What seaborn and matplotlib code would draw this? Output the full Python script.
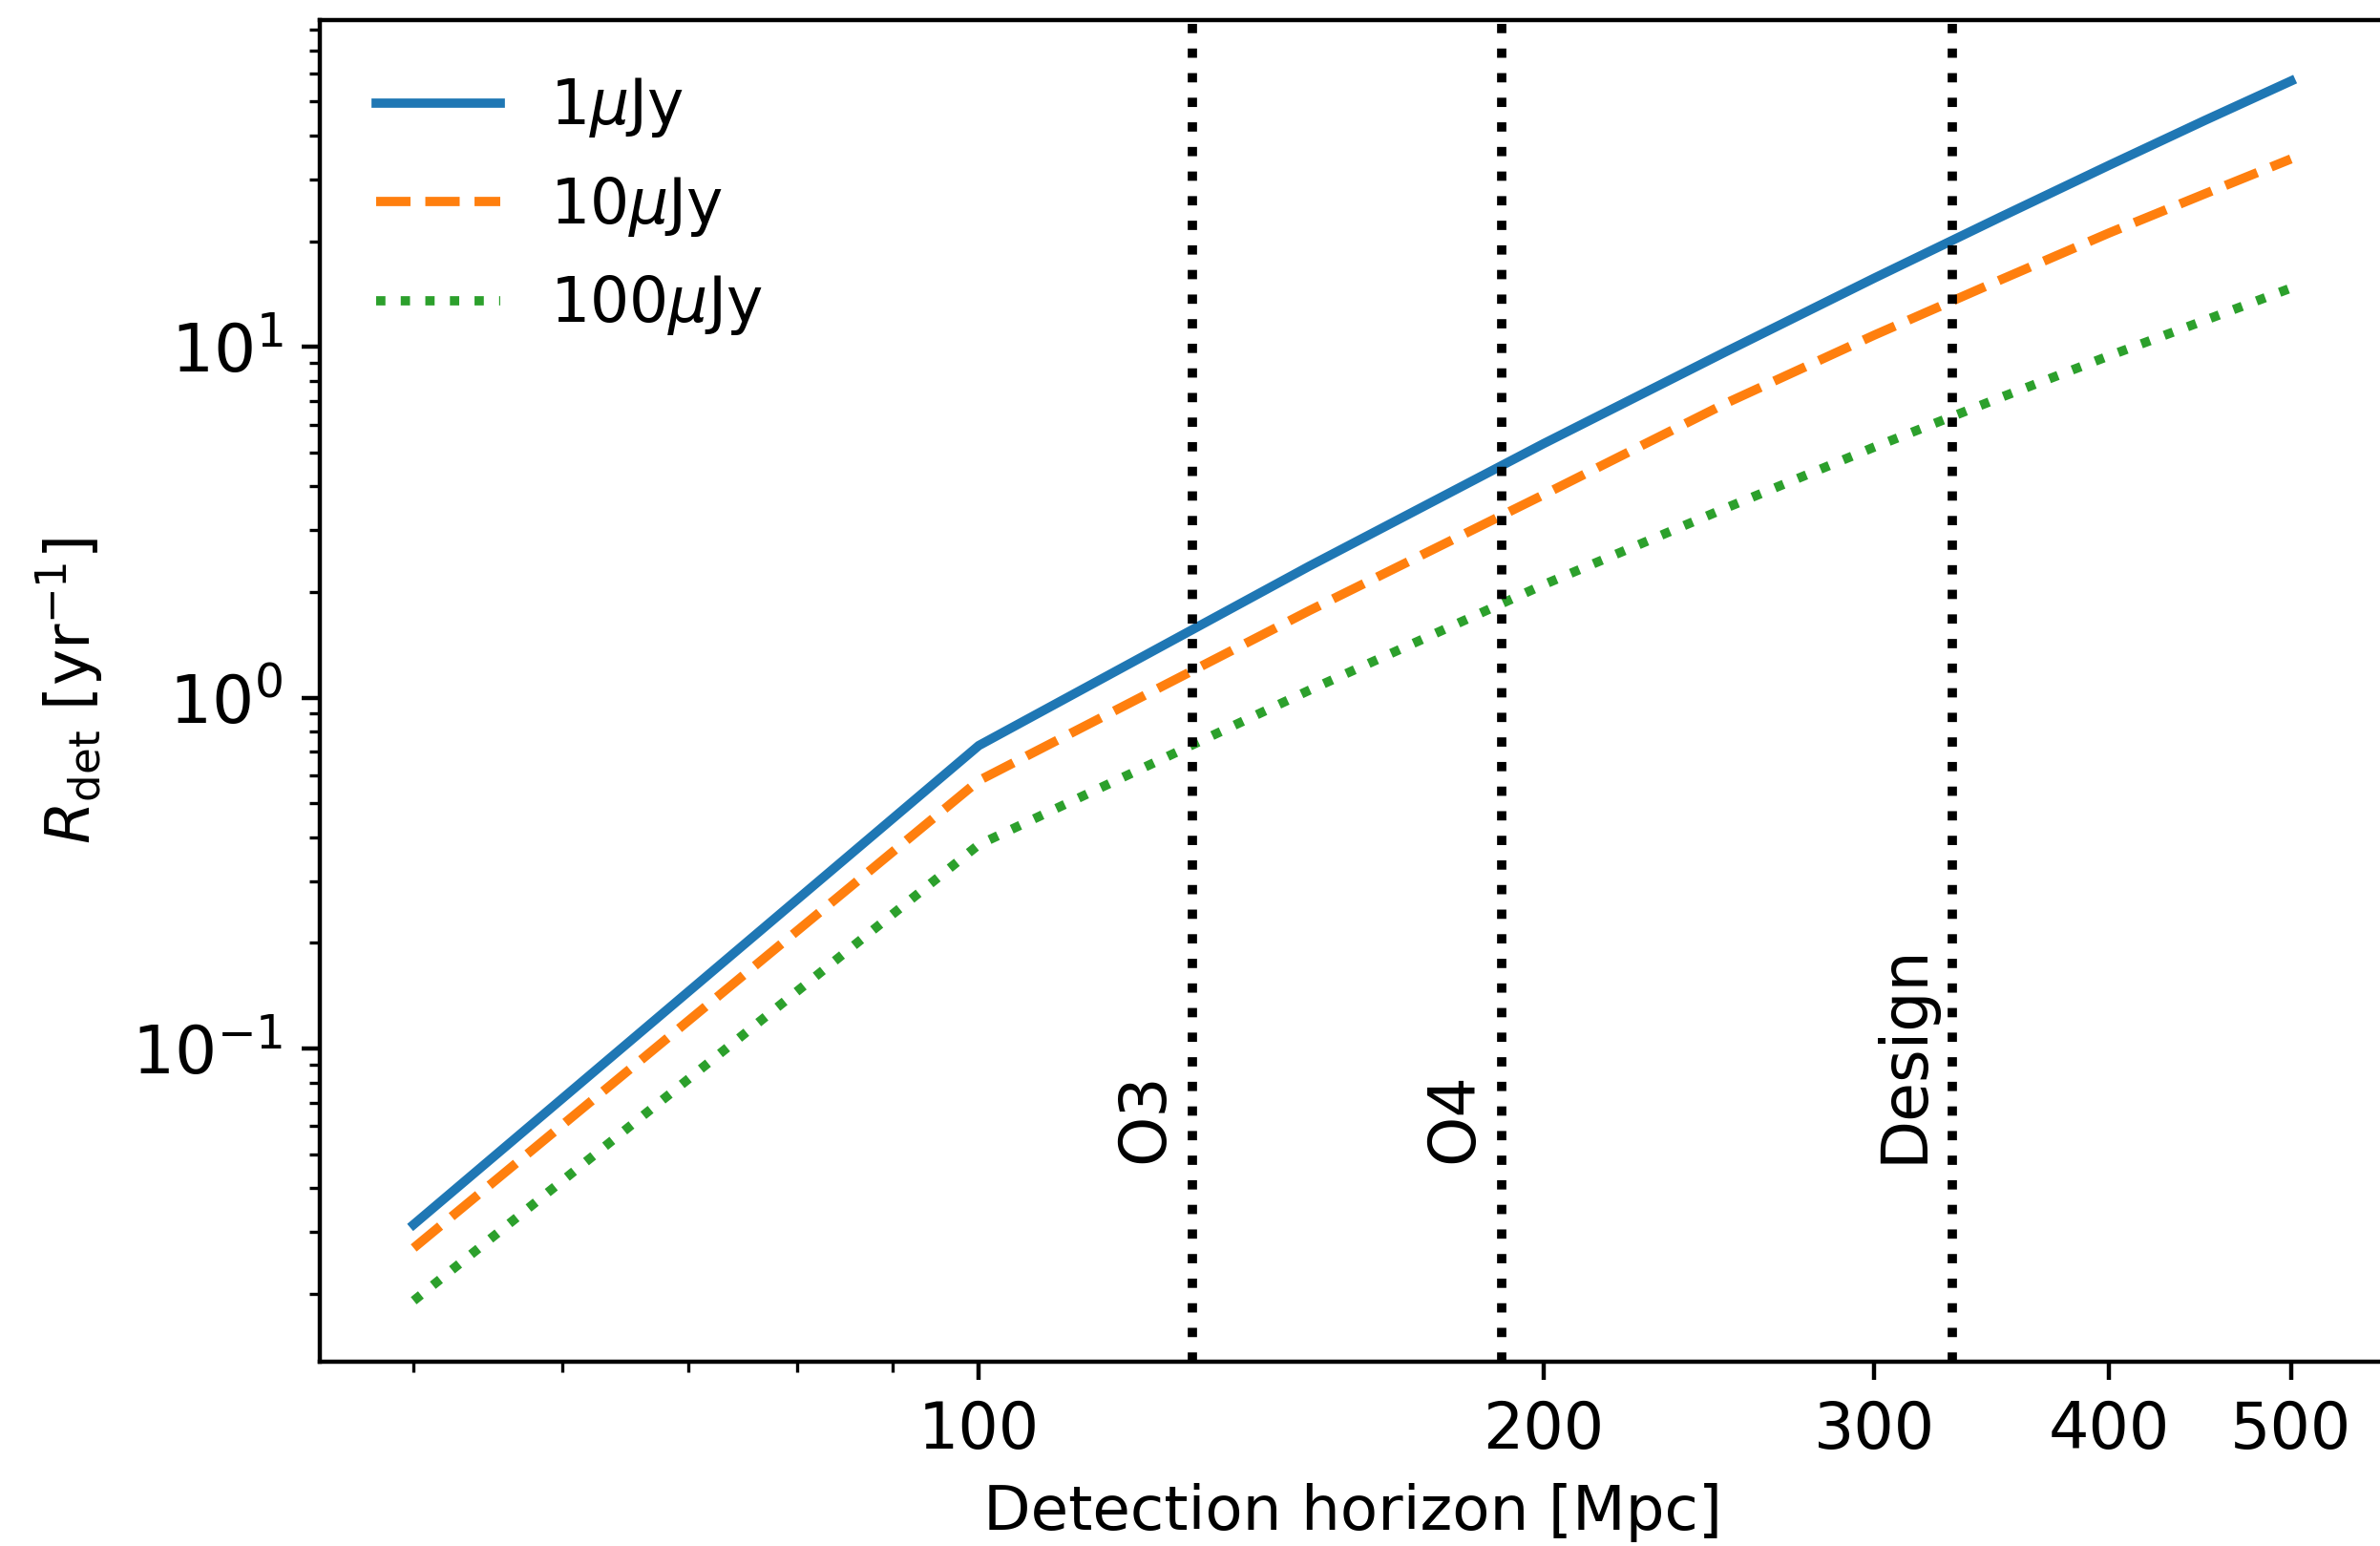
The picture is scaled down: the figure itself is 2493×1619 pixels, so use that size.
import numpy as np
import pandas as pd
import matplotlib
matplotlib.use("Agg")
import matplotlib.pyplot as plt
import seaborn as sns
from matplotlib.ticker import NullFormatter

# ---- data ----
horizon = [50, 100, 150, 200, 250, 300, 350, 400, 450, 500]
rate_1uJy = [0.0315, 0.73, 2.37, 5.30, 9.68, 15.7, 23.4, 32.9, 44.2, 57.2]
rate_10uJy = [0.027, 0.58, 1.77, 3.79, 6.9, 10.8, 15.5, 21.1, 27.3, 34.3]
rate_100uJy = [0.0191, 0.381, 1.05, 2.10, 3.47, 5.18, 7.16, 9.42, 11.9, 14.7]
series_labels = [r"1$\mu$Jy", r"10$\mu$Jy", r"100$\mu$Jy"]
series_colors = ["#1f77b4", "#ff7f0e", "#2ca02c"]
series_styles = ["-", "--", ":"]

run_names = ["O3", "O4", "Design"]
run_horizons = [130, 190, 330]

xtick_vals = [100, 200, 300, 400, 500]
xtick_labels = ["100", "200", "300", "400", "500"]

plt.rcParams["font.size"] = 12
plt.rcParams["font.family"] = ["DejaVu Sans"]

W, H, DPI = 2493, 1619, 400
fig = plt.figure(figsize=(W / DPI, H / DPI), dpi=DPI)
ax = fig.add_axes([335 / W, 1 - 1426 / H, (2498 - 335) / W, (1426 - 21) / H])

LW = 1.75
for vals, lab, col, ls in zip([rate_1uJy, rate_10uJy, rate_100uJy],
                              series_labels, series_colors, series_styles):
    df = pd.DataFrame({"horizon": horizon, "rate": vals})
    sns.lineplot(data=df, x="horizon", y="rate", ax=ax, color=col,
                 linestyle=ls, linewidth=LW, label=lab)

ax.set_xscale("log")
ax.set_yscale("log")

for name, xv in zip(run_names, run_horizons):
    ax.axvline(xv, color="k", linestyle=":", linewidth=LW)
    ax.text(xv * 0.98, 0.047, name, rotation=90, ha="right", va="bottom",
            fontsize=12, color="k")

ax.set_xticks(xtick_vals, xtick_labels)
ax.xaxis.set_minor_formatter(NullFormatter())
ax.tick_params(axis="y", which="major", labelsize=12.5)

ax.set_xlabel("Detection horizon [Mpc]", fontsize=11.6)
ax.set_ylabel(r"$R_{\rm det}$ [yr$^{-1}$]", fontsize=11.6, labelpad=5)

ax.legend(loc="upper left", frameon=False, fontsize=11.7,
          labelspacing=0.56, borderpad=0.4)

fig.savefig("out.png", dpi=DPI)
